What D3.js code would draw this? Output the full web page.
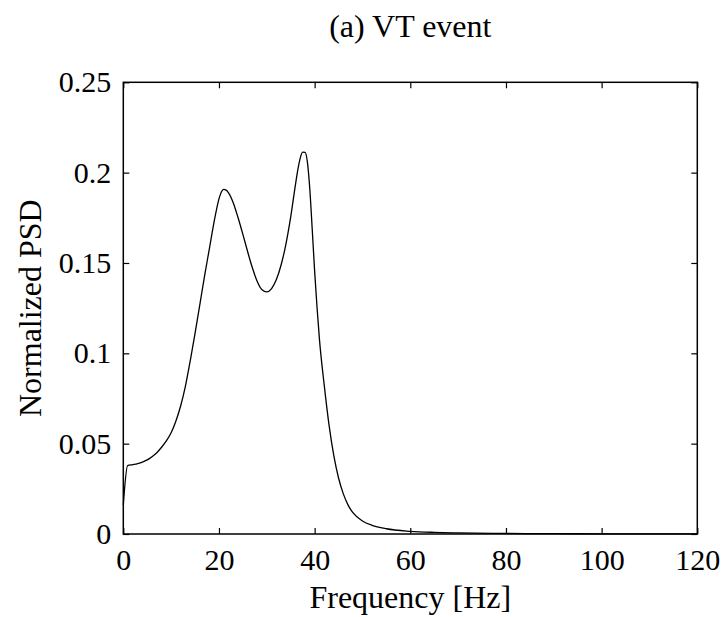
<!DOCTYPE html>
<html>
<head>
<meta charset="utf-8">
<script src="https://cdn.jsdelivr.net/npm/d3@7"></script>
<style>
  html, body { margin: 0; padding: 0; background: #fff; }
  text { font-family: "Liberation Serif", "DejaVu Serif", serif; fill: #000; }
</style>
</head>
<body>
<svg id="chart" width="724" height="617"></svg>
<script>
// ---- data ----
const title = "(a) VT event";
const xLabel = "Frequency [Hz]";
const yLabel = "Normalized PSD";
const xTicks = [0, 20, 40, 60, 80, 100, 120];
const yTicks = [0, 0.05, 0.1, 0.15, 0.2, 0.25];
const yTickLabels = ["0", "0.05", "0.1", "0.15", "0.2", "0.25"];
const freq = [0, 0.9, 2, 3, 4, 5, 6, 7, 8, 9, 10, 11, 12, 13, 14, 15, 16, 17, 18, 19, 20, 20.5, 21, 21.5, 22, 23, 24, 25, 26, 27, 28, 29, 30, 31, 32, 33, 34, 35, 36, 36.5, 37, 37.5, 38, 38.5, 39, 39.5, 40, 40.5, 41, 42, 43, 44, 45, 46, 47, 48, 50, 52, 55, 60, 65, 70, 80, 90, 100, 110, 120];
const psd  = [0.016, 0.0378, 0.0384, 0.039, 0.0398, 0.041, 0.0428, 0.045, 0.048, 0.0515, 0.056, 0.0625, 0.071, 0.082, 0.096, 0.111, 0.127, 0.143, 0.158, 0.173, 0.1855, 0.1893, 0.1907, 0.1903, 0.1888, 0.1832, 0.175, 0.1658, 0.1562, 0.1472, 0.1398, 0.1352, 0.134, 0.1358, 0.1408, 0.149, 0.1605, 0.1755, 0.1935, 0.2018, 0.2082, 0.2113, 0.2112, 0.2055, 0.1905, 0.1685, 0.1455, 0.1255, 0.108, 0.0825, 0.0605, 0.0435, 0.031, 0.0222, 0.016, 0.0118, 0.0072, 0.0048, 0.0029, 0.0015, 0.0009, 0.0006, 0.0003, 0.0002, 0.0001, 0.00007, 0.00005];

// ---- layout ----
const svg = d3.select("#chart");
const L = 123.3, R = 697.3, T = 82.3, B = 534;

const x = d3.scaleLinear().domain([0, 120]).range([L, R]);
const y = d3.scaleLinear().domain([0, 0.25]).range([B, T]);

const tickLen = 6;
const fs = 30;
const fsLab = 32;

// data line
const line = d3.line()
  .x((d, i) => x(freq[i]))
  .y((d, i) => y(psd[i]))
  .curve(d3.curveMonotoneX);

svg.append("path")
  .datum(psd)
  .attr("d", line)
  .attr("fill", "none")
  .attr("stroke", "#000")
  .attr("stroke-width", 1.3)
  .attr("stroke-linejoin", "round");

// frame
svg.append("rect")
  .attr("x", L).attr("y", T)
  .attr("width", R - L).attr("height", B - T)
  .attr("fill", "none")
  .attr("stroke", "#000")
  .attr("stroke-width", 1.5);

// bottom axis (inward ticks)
const xAxis = d3.axisBottom(x).tickValues(xTicks).tickSize(-tickLen).tickPadding(15).tickFormat(d3.format("d"));
const gx = svg.append("g").attr("transform", `translate(0,${B})`).call(xAxis);
gx.select(".domain").remove();
gx.selectAll("line").attr("stroke-width", 1.2);
gx.selectAll("text").attr("font-size", fs).attr("font-family", "Liberation Serif, serif");

// top mirror ticks
const gxt = svg.append("g").attr("transform", `translate(0,${T})`)
  .call(d3.axisTop(x).tickValues(xTicks).tickSize(-tickLen).tickFormat(""));
gxt.select(".domain").remove();
gxt.selectAll("line").attr("stroke-width", 1.2);

// left axis
const yAxis = d3.axisLeft(y).tickValues(yTicks).tickSize(-tickLen).tickPadding(12)
  .tickFormat((d, i) => yTickLabels[i]);
const gy = svg.append("g").attr("transform", `translate(${L},0)`).call(yAxis);
gy.select(".domain").remove();
gy.selectAll("line").attr("stroke-width", 1.2);
gy.selectAll("text").attr("font-size", fs).attr("font-family", "Liberation Serif, serif");

// right mirror ticks
const gyr = svg.append("g").attr("transform", `translate(${R},0)`)
  .call(d3.axisRight(y).tickValues(yTicks).tickSize(-tickLen).tickFormat(""));
gyr.select(".domain").remove();
gyr.selectAll("line").attr("stroke-width", 1.2);

// title
svg.append("text")
  .attr("x", (L + R) / 2).attr("y", 37)
  .attr("text-anchor", "middle")
  .attr("font-size", fsLab)
  .text(title);

// x label
svg.append("text")
  .attr("x", (L + R) / 2).attr("y", 608)
  .attr("text-anchor", "middle")
  .attr("font-size", fsLab)
  .text(xLabel);

// y label
svg.append("text")
  .attr("transform", `translate(41,${(T + B) / 2}) rotate(-90)`)
  .attr("text-anchor", "middle")
  .attr("font-size", fsLab)
  .text(yLabel);
</script>
</body>
</html>
